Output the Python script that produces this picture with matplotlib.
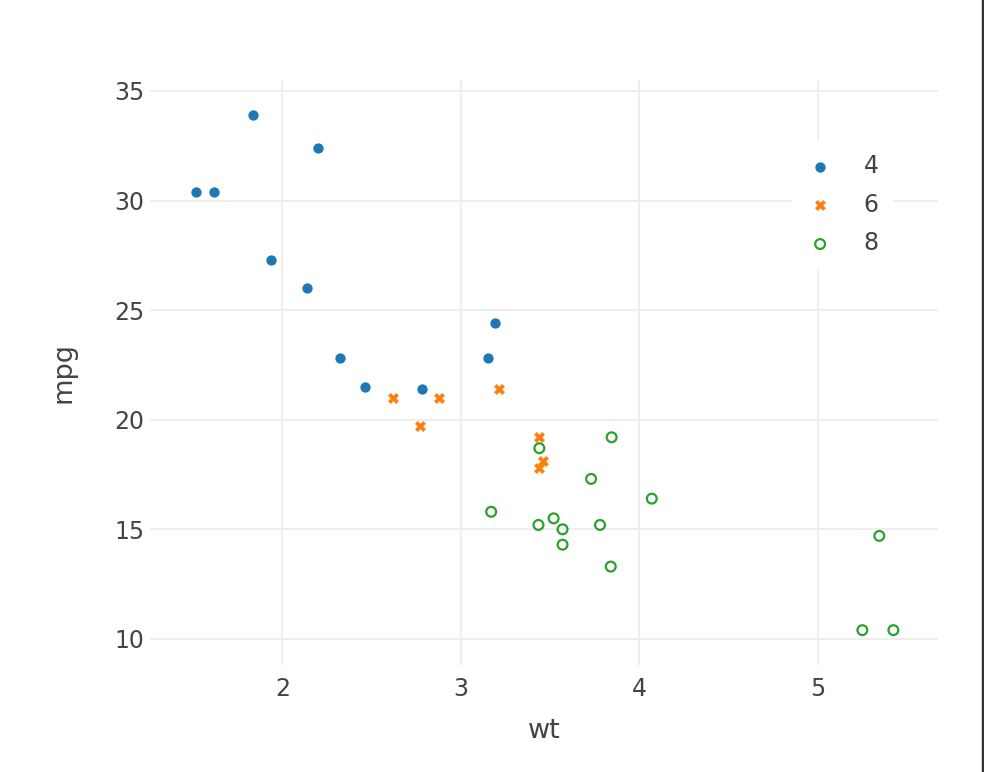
import matplotlib
matplotlib.use('Agg')
import matplotlib.pyplot as plt

# mtcars: weight vs mpg grouped by cylinders
wt_4 = [2.320, 3.190, 3.150, 2.200, 1.615, 1.835, 2.465, 1.935, 2.140, 1.513, 2.780]
mpg_4 = [22.8, 24.4, 22.8, 32.4, 30.4, 33.9, 21.5, 27.3, 26.0, 30.4, 21.4]

wt_6 = [2.620, 2.875, 3.215, 3.460, 3.440, 3.440, 2.770]
mpg_6 = [21.0, 21.0, 21.4, 18.1, 19.2, 17.8, 19.7]

wt_8 = [3.440, 3.570, 4.070, 3.730, 3.780, 5.250, 5.424, 5.345, 3.520, 3.435,
        3.840, 3.845, 3.170, 3.570]
mpg_8 = [18.7, 14.3, 16.4, 17.3, 15.2, 10.4, 10.4, 14.7, 15.5, 15.2,
         13.3, 19.2, 15.8, 15.0]

x_ticks = [2, 3, 4, 5]
y_ticks = [10, 15, 20, 25, 30, 35]

plt.rcParams['font.family'] = ['DejaVu Sans']
text_color = '#444444'

W, H = 984, 772
fig = plt.figure(figsize=(W / 100, H / 100), dpi=100)
ax = fig.add_axes([150 / W, (H - 665) / H, (938 - 150) / W, (665 - 80) / H])

ax.scatter(wt_4, mpg_4, s=55, marker='o', color='#1f77b4', linewidths=0, label='4', zorder=3)
ax.scatter(wt_6, mpg_6, s=62, marker='X', color='#ff7f0e', linewidths=0, label='6', zorder=3)
ax.scatter(wt_8, mpg_8, s=50, marker='o', facecolors='none', edgecolors='#2ca02c',
           linewidths=1.6, label='8', zorder=3)

ax.set_xlim(1.258, 5.674)
ax.set_ylim(8.81, 35.5)
ax.set_xticks(x_ticks)
ax.set_yticks(y_ticks)

ax.grid(True, color='#eeeeee', linewidth=1.4)
ax.set_axisbelow(True)
for s in ax.spines.values():
    s.set_visible(False)
ax.tick_params(length=0, labelsize=17, colors=text_color)
ax.tick_params(axis='x', pad=9)
ax.tick_params(axis='y', pad=4)

ax.set_xlabel('wt', fontsize=19.5, color=text_color, labelpad=12)
ax.set_ylabel('mpg', fontsize=19.5, color=text_color, labelpad=27)

leg = ax.legend(loc='upper left', bbox_to_anchor=((780 - 150) / 788, 1 - (128 - 80) / 585),
                frameon=True, fontsize=17, labelcolor=text_color, handletextpad=1.25,
                labelspacing=0.62, borderpad=0.6, handlelength=1.2, fancybox=False)
leg.get_frame().set_facecolor('white')
leg.get_frame().set_edgecolor('none')
leg.get_frame().set_alpha(1)

# dark border on the right edge of the screenshot
fig.add_artist(plt.Line2D([982.5 / W, 982.5 / W], [0, 1], color='#333333', linewidth=2.5))

fig.savefig('out.png', dpi=100)
